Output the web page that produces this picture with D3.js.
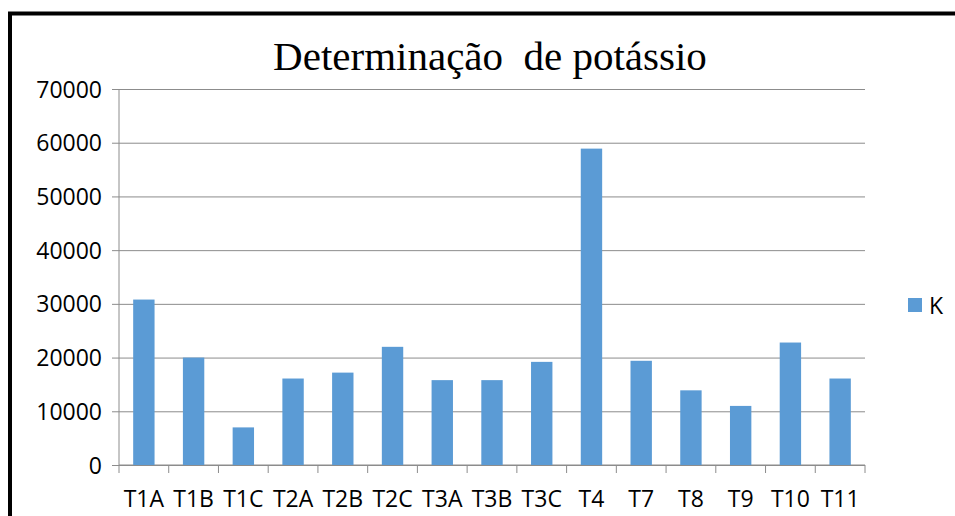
<!DOCTYPE html>
<html>
<head>
<meta charset="UTF-8">
<script src="https://cdn.jsdelivr.net/npm/d3@7"></script>
<style>
  body { margin: 0; background: #fff; }
  svg { display: block; }
  .lbl { font-family: "Open Sans", sans-serif; font-size: 23px; fill: #000; }
</style>
</head>
<body>
<div id="chart"></div>
<script>
const categories = ["T1A", "T1B", "T1C", "T2A", "T2B", "T2C", "T3A", "T3B", "T3C", "T4", "T7", "T8", "T9", "T10", "T11"];
const values = [30800, 20000, 7000, 16100, 17200, 22000, 15800, 15800, 19200, 58900, 19400, 13900, 11000, 22800, 16100];
const yTicks = [0, 10000, 20000, 30000, 40000, 50000, 60000, 70000];
const seriesName = "K";

const W = 955, H = 516;
const margin = {top: 89, left: 119, right: 90, bottom: 51};
const width = W - margin.left - margin.right,
      height = H - margin.top - margin.bottom;

const svg = d3.select("#chart").append("svg")
    .attr("width", W)
    .attr("height", H);

// black frame (right and bottom edges fall outside the picture)
svg.append("rect")
    .attr("x", 10).attr("y", 13.5)
    .attr("width", 1000).attr("height", 600)
    .attr("fill", "none")
    .attr("stroke", "#000")
    .attr("stroke-width", 4);

svg.append("text")
    .attr("x", margin.left + width / 2 - 2)
    .attr("y", 70)
    .attr("text-anchor", "middle")
    .style("font-family", "'Liberation Serif', 'Times New Roman', serif")
    .style("font-size", "41px")
    .style("white-space", "pre")
    .text("Determinação  de potássio");

const g = svg.append("g")
    .attr("transform", "translate(" + margin.left + "," + margin.top + ")");

const x = d3.scaleBand()
    .domain(categories)
    .range([0, width])
    .paddingInner(0.57)
    .paddingOuter(0.285);

const y = d3.scaleLinear()
    .domain([0, 70000])
    .range([height, 0]);

// gridlines + y axis
const yAxis = g.append("g")
    .call(d3.axisLeft(y).tickValues(yTicks).tickFormat(d3.format("d"))
        .tickSize(-width).tickSizeOuter(0).tickPadding(17));
yAxis.select(".domain").remove();
yAxis.selectAll(".tick line")
    .attr("x1", -7)
    .attr("stroke", "#8c8c8c");
yAxis.selectAll(".tick text").attr("class", "lbl").attr("dy", "0.35em");

g.append("line")
    .attr("x1", 0).attr("x2", 0)
    .attr("y1", 0).attr("y2", height)
    .attr("stroke", "#8c8c8c");

// x axis with ticks on category boundaries
const xAxis = g.append("g")
    .attr("transform", "translate(0," + height + ")");
xAxis.append("line")
    .attr("x1", 0).attr("x2", width)
    .attr("stroke", "#8c8c8c");
const step = x.step();
xAxis.selectAll(".bt")
    .data(d3.range(categories.length + 1))
    .enter().append("line")
    .attr("x1", d => d * step).attr("x2", d => d * step)
    .attr("y1", 0).attr("y2", 8)
    .attr("stroke", "#8c8c8c");
xAxis.selectAll(".xl")
    .data(categories)
    .enter().append("text")
    .attr("class", "lbl")
    .attr("x", d => x(d) + x.bandwidth() / 2)
    .attr("y", 42)
    .attr("text-anchor", "middle")
    .text(d => d);

g.selectAll(".bar")
    .data(values)
    .enter().append("rect")
    .attr("class", "bar")
    .attr("x", (d, i) => x(categories[i]))
    .attr("width", x.bandwidth())
    .attr("y", d => y(d))
    .attr("height", d => height - y(d))
    .attr("fill", "#5b9bd5");

// legend
const leg = svg.append("g").attr("transform", "translate(908,298)");
leg.append("rect").attr("width", 14).attr("height", 14).attr("fill", "#5b9bd5");
leg.append("text").attr("class", "lbl").attr("x", 21).attr("y", 15.5).text(seriesName);
</script>
</body>
</html>
